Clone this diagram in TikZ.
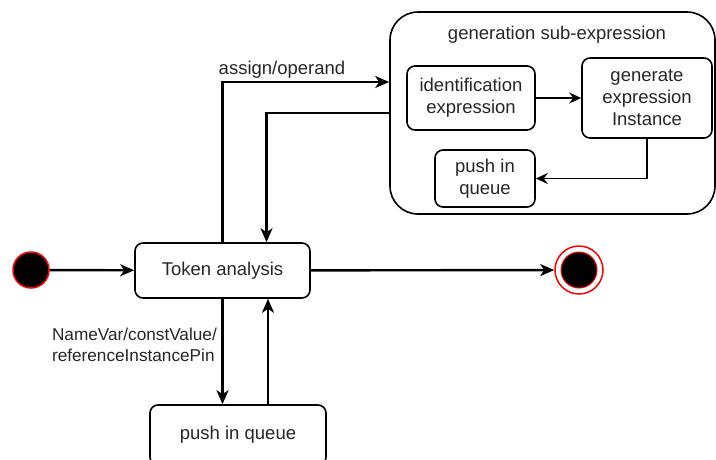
\documentclass[tikz,border=0pt]{standalone}
\usepackage{fontspec}
\setmainfont{Liberation Sans}
\usetikzlibrary{arrows.meta,positioning,calc}
\tikzset{
  >=Stealth,
  every node/.append style={font=\fontsize{18.5}{22}\selectfont, text=black!85},
}

\begin{document}
\begin{tikzpicture}[
  x=1pt, y=-1pt,
  state/.style   ={draw=black, rounded corners=8pt, line width=1.6pt, align=center, inner sep=2pt},
  composite/.style={draw=black, rounded corners=28pt, line width=1.6pt, inner sep=0pt},
  flow/.style    ={-{Stealth[length=14pt,width=12pt,inset=4pt]}, line width=2.4pt},
  flowthin/.style={-{Stealth[length=12pt,width=11pt,inset=4pt]}, line width=1.8pt},
  initial/.style ={circle, draw=red, line width=1.5pt, fill=black, minimum size=36pt, inner sep=0pt},
  finalring/.style={circle, draw=red, line width=1.5pt, fill=white, minimum size=48pt, inner sep=0pt},
  finalcore/.style={circle, draw=red, line width=1pt, fill=black, minimum size=36pt, inner sep=0pt},
  trigger/.style ={align=left, inner sep=0pt, font=\fontsize{17.2}{21}\selectfont}
]
\useasboundingbox (0,0) rectangle (716,459);

% composite state on the upper right
\node[composite, minimum width=325pt, minimum height=202pt] (group) at (552.5,113) {};
\node (grouptitle) at (557,35) {generation sub-expression};
\node[state, minimum width=128pt, minimum height=64pt] (ident) at (471,98) {identification\\expression};
\node[state, minimum width=130pt, minimum height=80pt] (gen) at (647,98) {generate\\expression\\Instance};
\node[state, minimum width=100pt, minimum height=57pt] (innerpush) at (485,178.5) {push in\\queue};

% main line
\node[initial] (start) at (31,270) {};
\node[state, minimum width=175pt, minimum height=55pt] (token) at (222.5,270.5) {Token analysis};
\node[finalring] (finish) at (579,270) {};
\node[finalcore] (finishcore) at (finish) {};

% lower state, cut by the page edge
\node[state, minimum width=176pt, minimum height=60pt] (pushq) at (238,435) {push in queue};

% transitions of the main line
\draw[flow] (start) -- (token);
\draw[flow] (token) -- (finish);

% into and out of the composite state
\draw[flow] (token.north) |- ([yshift=31pt]group.west);
\draw[flow] (group.west) -| ([xshift=44pt]token.north);
\node[anchor=base] (assignlbl) at (282,74) {assign/operand};

% down to the queue and back
\draw[flow] (token.south) -- (token.south |- pushq.north);
\draw[flow] ([xshift=30pt]pushq.north) -- ([xshift=30pt]pushq.north |- token.south);
\node[trigger, anchor=east] (pushlbl) at (217,345) {NameVar/constValue/\\referenceInstancePin};

% inside the composite state
\draw[flowthin] (ident) -- (gen);
\draw[flowthin] (gen.south) |- (innerpush.east);

\end{tikzpicture}
\end{document}
